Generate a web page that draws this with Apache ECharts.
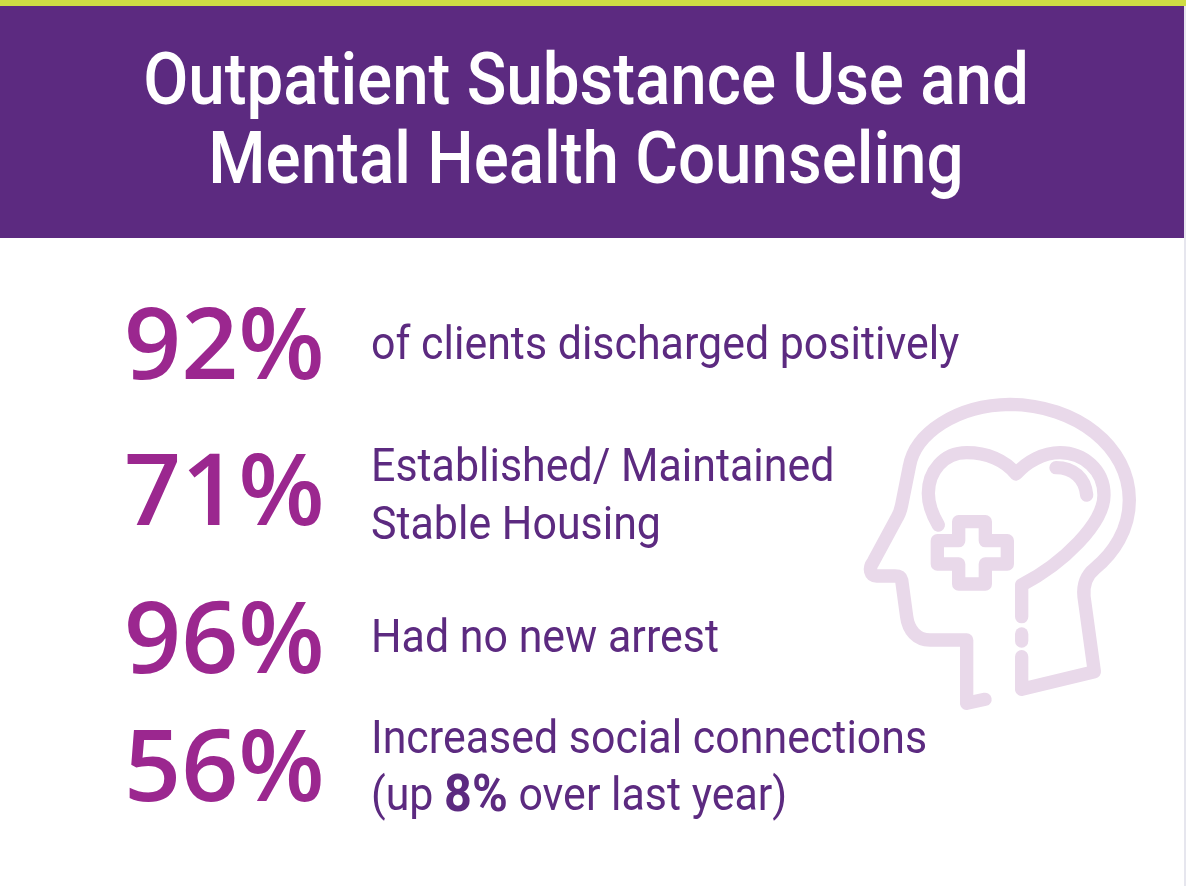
<!DOCTYPE html>
<html>
<head>
<meta charset="utf-8">
<style>html,body{margin:0;padding:0;background:#fff}#chart{width:1186px;height:886px}</style>
<script src="https://cdn.jsdelivr.net/npm/echarts@6/dist/echarts.min.js"></script>
</head>
<body>
<div id="chart"></div>
<script>
var titleLines = ['Outpatient Substance Use and', 'Mental Health Counseling'];
var percentValues = [92, 71, 96, 56];
var rowLabels = [
	['of clients discharged positively'],
	['Established/ Maintained', 'Stable Housing'],
	['Had no new arrest'],
	['Increased social connections', '(up {b|8%} over last year)']
];

//layout
var titleY = [86, 165];
var percentY = [351, 497, 645, 773];
var labelY = [[347], [469, 527], [640], [741, 798]];
var bodyFont = 'Roboto';
var purple = '#5c2a80', magenta = '#9b278f', pale = '#e9d9ea';

//icon outline, in 3x crop coordinates
var iconPaths = {
	iconHead: 'M405,928 L350,940 L350,750 L240,750 C200,750 175,720 170,680 L155,570 Q152,558 135,558 L80,558 C60,558 55,535 70,515 L140,385 Q150,370 155,345 L178,230 C195,130 320,45 480,43 C680,45 838,170 838,330 C838,420 790,490 735,535 C710,555 698,580 702,620 L733,845 L515,898 L515,800',
	iconHeart: 'M515,680 L515,585 C640,520 762,400 762,315 C762,240 700,188 630,188 C580,188 530,215 498,252 C465,210 410,188 350,188 C280,188 235,245 235,310 C235,345 250,380 265,405',
	iconDot: 'M515,732 L515,753',
	iconShine: 'M618,233 C670,233 705,265 710,315',
	iconCross: 'M326,395 L406,395 L406,452 L472,452 L472,522 L406,522 L406,582 L326,582 L326,522 L262,522 L262,452 L326,452 Z'
};

var elements = [
	{type:'rect', shape:{x:0,y:0,width:1186,height:886}, style:{fill:'#ffffff'}},
	{type:'rect', shape:{x:1184,y:0,width:2,height:886}, style:{fill:'#e6e6ee'}},
	{type:'rect', shape:{x:0,y:0,width:1186,height:6}, style:{fill:'#cfdc44'}},
	{type:'rect', shape:{x:0,y:6,width:1184,height:232}, style:{fill:purple}}
];

Object.keys(iconPaths).forEach(function(name){
	echarts.graphic.registerShape(name, echarts.graphic.extendPath(iconPaths[name], {}));
	elements.push({
		type:name, x:850, y:390, scaleX:1/3, scaleY:1/3,
		style:{fill:'none', stroke:pale, lineWidth:40, lineCap:'round', lineJoin:'round'}
	});
});

titleLines.forEach(function(t,i){
	elements.push({
		type:'text', x:586, y:titleY[i], scaleX:0.897,
		style:{text:t, fill:'#ffffff', font:'500 73px Roboto', align:'center', verticalAlign:'middle'}
	});
});

percentValues.forEach(function(v,i){
	elements.push({
		type:'text', x:124, y:percentY[i],
		style:{text:v+'%', fill:magenta, font:'600 100px "Open Sans"', align:'left', verticalAlign:'middle'}
	});
	rowLabels[i].forEach(function(t,j){
		elements.push({
			type:'text', x:371, y:labelY[i][j], scaleX:0.933,
			style:{
				text:t, fill:purple, fontFamily:bodyFont, fontSize:46, fontWeight:400, align:'left', verticalAlign:'middle',
				rich:{b:{fontFamily:bodyFont, fontSize:52, fontWeight:700, fill:purple}}
			}
		});
	});
});

var chart = echarts.init(document.getElementById('chart'), null, {renderer:'canvas'});
chart.setOption({animation:false, graphic:{elements:elements}});
</script>
</body>
</html>
